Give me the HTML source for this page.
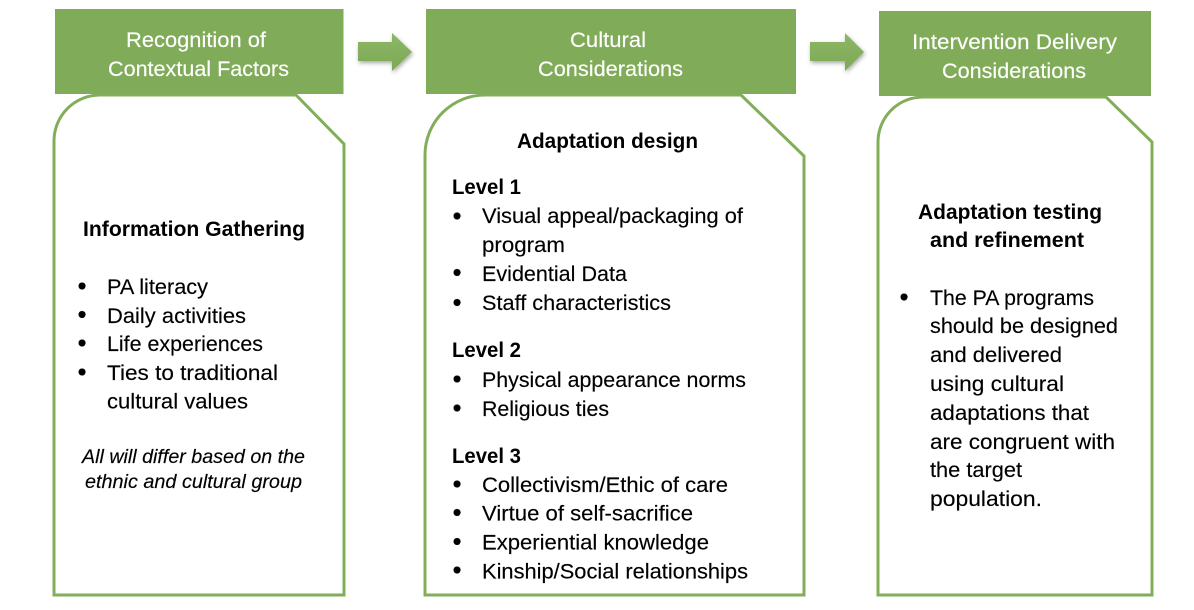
<!DOCTYPE html>
<html lang="en">
<head>
<meta charset="utf-8">
<title>Cultural adaptation diagram</title>
<style>
html,body{margin:0;padding:0;background:#fff;width:1194px;height:610px;overflow:hidden}
svg{display:block}
text{font-family:"Liberation Sans",Arial,sans-serif;font-size:21.5px;fill:#000;stroke:#000;stroke-width:.15px}
.h{fill:#fff;stroke:#fff;font-size:21.5px}
.b{font-weight:bold;font-size:21px;stroke-width:0}
.i{font-style:italic;font-size:19px}
.p{fill:#fff;stroke:#82ae5a;stroke-width:3}
.r{fill:#80ab58}
.d{font-size:26px;text-anchor:middle}
</style>
</head>
<body>
<svg width="1194" height="610" viewBox="0 0 1194 610" xmlns="http://www.w3.org/2000/svg">
<defs>
<filter id="s" x="-20%" y="-20%" width="150%" height="160%"><feDropShadow dx="1" dy="2" stdDeviation="2" flood-color="#000" flood-opacity=".35"/></filter>
<linearGradient id="g" x1="0" y1="0" x2="0" y2="1"><stop offset="0" stop-color="#8cb766"/><stop offset="1" stop-color="#7da855"/></linearGradient>
</defs>

<path class="p" d="M54 595V141A46 46 0 0 1 100 95H296L344 144V595Z"/>
<path class="p" d="M425 595V155A60 60 0 0 1 485 95H741L804 156V595Z"/>
<path class="p" d="M878 595V142A45 45 0 0 1 923 97H1106L1152 142V595Z"/>

<rect class="r" x="55" y="9" width="288.500" height="85"/>
<rect class="r" x="426" y="9" width="370" height="85"/>
<rect class="r" x="879" y="11" width="272" height="85"/>

<path filter="url(#s)" fill="url(#g)" d="M358 42H392V33L412 52L392 71V61H358Z"/>
<path filter="url(#s)" fill="url(#g)" d="M810 42H845V33L864 52L845 71V61H810Z"/>

<text class="h" x="126" y="47" textLength="140" lengthAdjust="spacingAndGlyphs">Recognition of</text>
<text class="h" x="108" y="76" textLength="181" lengthAdjust="spacingAndGlyphs">Contextual Factors</text>
<text class="h" x="570" y="47" textLength="76" lengthAdjust="spacingAndGlyphs">Cultural</text>
<text class="h" x="538" y="76" textLength="145" lengthAdjust="spacingAndGlyphs">Considerations</text>
<text class="h" x="912" y="49" textLength="205" lengthAdjust="spacingAndGlyphs">Intervention Delivery</text>
<text class="h" x="942" y="78" textLength="144" lengthAdjust="spacingAndGlyphs">Considerations</text>

<text class="b" x="83" y="236" textLength="222" lengthAdjust="spacingAndGlyphs">Information Gathering</text>
<text class="d" x="82" y="294.500">•</text><text x="107" y="294" textLength="101" lengthAdjust="spacingAndGlyphs">PA literacy</text>
<text class="d" x="82" y="323">•</text><text x="107" y="323" textLength="139" lengthAdjust="spacingAndGlyphs">Daily activities</text>
<text class="d" x="82" y="351.500">•</text><text x="107" y="351" textLength="156" lengthAdjust="spacingAndGlyphs">Life experiences</text>
<text class="d" x="82" y="380.500">•</text><text x="107" y="380" textLength="171" lengthAdjust="spacingAndGlyphs">Ties to traditional</text>
<text x="107" y="408.500" textLength="141" lengthAdjust="spacingAndGlyphs">cultural values</text>
<text class="i" x="82" y="463" textLength="223" lengthAdjust="spacingAndGlyphs">All will differ based on the</text>
<text class="i" x="85" y="488" textLength="217" lengthAdjust="spacingAndGlyphs">ethnic and cultural group</text>

<text class="b" x="517" y="148" textLength="181" lengthAdjust="spacingAndGlyphs">Adaptation design</text>
<text class="b" x="452" y="194" textLength="69" lengthAdjust="spacingAndGlyphs">Level 1</text>
<text class="d" x="457" y="224.500">•</text><text x="482" y="223" textLength="261" lengthAdjust="spacingAndGlyphs">Visual appeal/packaging of</text>
<text x="482" y="252" textLength="83" lengthAdjust="spacingAndGlyphs">program</text>
<text class="d" x="457" y="281">•</text><text x="482" y="281" textLength="145" lengthAdjust="spacingAndGlyphs">Evidential Data</text>
<text class="d" x="457" y="311">•</text><text x="482" y="310" textLength="189" lengthAdjust="spacingAndGlyphs">Staff characteristics</text>
<text class="b" x="452" y="357" textLength="69" lengthAdjust="spacingAndGlyphs">Level 2</text>
<text class="d" x="457" y="387.500">•</text><text x="482" y="387" textLength="264" lengthAdjust="spacingAndGlyphs">Physical appearance norms</text>
<text class="d" x="457" y="416.500">•</text><text x="482" y="416" textLength="127" lengthAdjust="spacingAndGlyphs">Religious ties</text>
<text class="b" x="452" y="463" textLength="69" lengthAdjust="spacingAndGlyphs">Level 3</text>
<text class="d" x="457" y="492.500">•</text><text x="482" y="492" textLength="246" lengthAdjust="spacingAndGlyphs">Collectivism/Ethic of care</text>
<text class="d" x="457" y="521">•</text><text x="482" y="520.500" textLength="211" lengthAdjust="spacingAndGlyphs">Virtue of self-sacrifice</text>
<text class="d" x="457" y="550">•</text><text x="482" y="549.500" textLength="227" lengthAdjust="spacingAndGlyphs">Experiential knowledge</text>
<text class="d" x="457" y="578.500">•</text><text x="482" y="578.500" textLength="266" lengthAdjust="spacingAndGlyphs">Kinship/Social relationships</text>

<text class="b" x="918" y="219" textLength="184" lengthAdjust="spacingAndGlyphs">Adaptation testing</text>
<text class="b" x="930" y="247" textLength="154" lengthAdjust="spacingAndGlyphs">and refinement</text>
<text class="d" x="904" y="305.500">•</text><text x="930" y="305" textLength="164" lengthAdjust="spacingAndGlyphs">The PA programs</text>
<text x="930" y="333" textLength="188" lengthAdjust="spacingAndGlyphs">should be designed</text>
<text x="930" y="362" textLength="132" lengthAdjust="spacingAndGlyphs">and delivered</text>
<text x="930" y="391" textLength="134" lengthAdjust="spacingAndGlyphs">using cultural</text>
<text x="930" y="420" textLength="159" lengthAdjust="spacingAndGlyphs">adaptations that</text>
<text x="930" y="449" textLength="185" lengthAdjust="spacingAndGlyphs">are congruent with</text>
<text x="930" y="477" textLength="92" lengthAdjust="spacingAndGlyphs">the target</text>
<text x="930" y="506" textLength="112" lengthAdjust="spacingAndGlyphs">population.</text>
</svg>
</body>
</html>
